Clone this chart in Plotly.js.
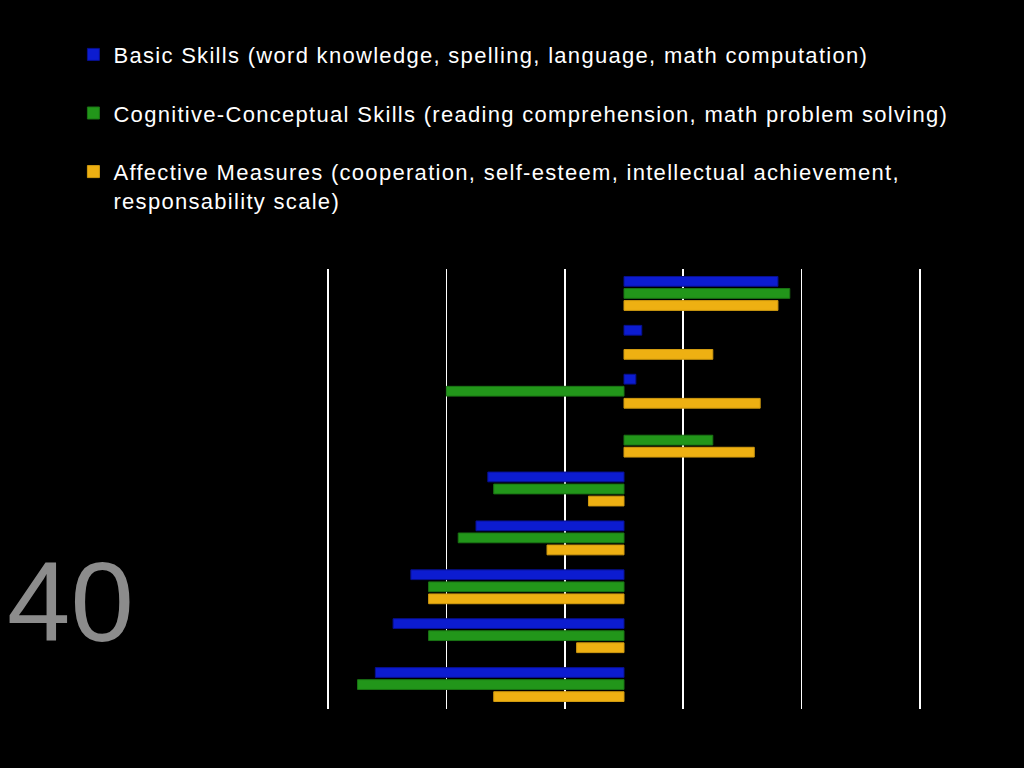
<!DOCTYPE html>
<html>
<head>
<meta charset="utf-8">
<script src="https://cdn.plot.ly/plotly-3.0.1.min.js"></script>
<style>
  html, body { margin: 0; padding: 0; background: #000; }
  #chart { width: 1024px; height: 768px; }
  /* the slide text runs a bit wider than Arial; global so plotly measures it too */
  .legendtext { letter-spacing: 1.3px; }
</style>
</head>
<body>
<div id="chart"></div>
<script>
// outcome rows, top to bottom (no labels shown on the slide)
const categories = ["1", "2", "3", "4", "5", "6", "7", "8", "9"];

const seriesNames = [
  "Basic Skills (word knowledge, spelling, language, math computation)",
  "Cognitive-Conceptual Skills (reading comprehension, math problem solving)",
  "Affective Measures (cooperation, self-esteem, intellectual achievement,<br>responsability scale)",
];

const basicSkills = [0.26, 0.03, 0.02, null, -0.23, -0.25, -0.36, -0.39, -0.42];
const cognitiveSkills = [0.28, null, -0.30, 0.15, -0.22, -0.28, -0.33, -0.33, -0.45];
const affectiveMeasures = [0.26, 0.15, 0.23, 0.22, -0.06, -0.13, -0.33, -0.08, -0.22];

const colors = ["#0c1cd0", "#22961a", "#eeb012"];
const edgeColors = ["#081090", "#1a7414", "#d09a10"];

const slideNumber = "40";

const traces = [basicSkills, cognitiveSkills, affectiveMeasures].map((vals, i) => ({
  type: "bar",
  orientation: "h",
  name: seriesNames[i],
  y: categories,
  x: vals,
  legendgroup: "g" + i,
  marker: { color: colors[i], line: { width: 1, color: edgeColors[i] } },
  hoverinfo: "x",
}));

Plotly.newPlot(
  "chart",
  traces,
  {
    width: 1024,
    height: 768,
    paper_bgcolor: "#000",
    plot_bgcolor: "#000",
    font: { family: "Liberation Sans, Arial, sans-serif", color: "#fff", size: 22 },
    margin: { l: 325, r: 101, t: 269, b: 59 },
    barmode: "group",
    bargap: 0.26,
    bargroupgap: 0.19,
    showlegend: true,
    legend: {
      x: -0.4207,
      xanchor: "left",
      y: 1.535,
      yanchor: "top",
      valign: "top",
      traceorder: "grouped",
      tracegroupgap: 27,
      bgcolor: "rgba(0,0,0,0)",
      font: { size: 22, color: "#fff" },
    },
    xaxis: {
      range: [-0.505, 0.505],
      tick0: 0.1,
      dtick: 0.2,
      showgrid: true,
      gridcolor: "#ffffff",
      gridwidth: 1.5,
      zeroline: false,
      showline: false,
      showticklabels: false,
      ticks: "",
      fixedrange: true,
    },
    yaxis: {
      type: "category",
      autorange: "reversed",
      showgrid: false,
      zeroline: false,
      showline: false,
      showticklabels: false,
      ticks: "",
      fixedrange: true,
    },
    annotations: [
      {
        text: slideNumber,
        xref: "paper",
        yref: "paper",
        x: -0.5345,
        xanchor: "left",
        y: 0.245,
        yanchor: "middle",
        showarrow: false,
        font: { size: 114, color: "#8c8c8c", family: "Liberation Sans, Arial, sans-serif" },
      },
    ],
  },
  { displayModeBar: false, staticPlot: true }
);
</script>
</body>
</html>
